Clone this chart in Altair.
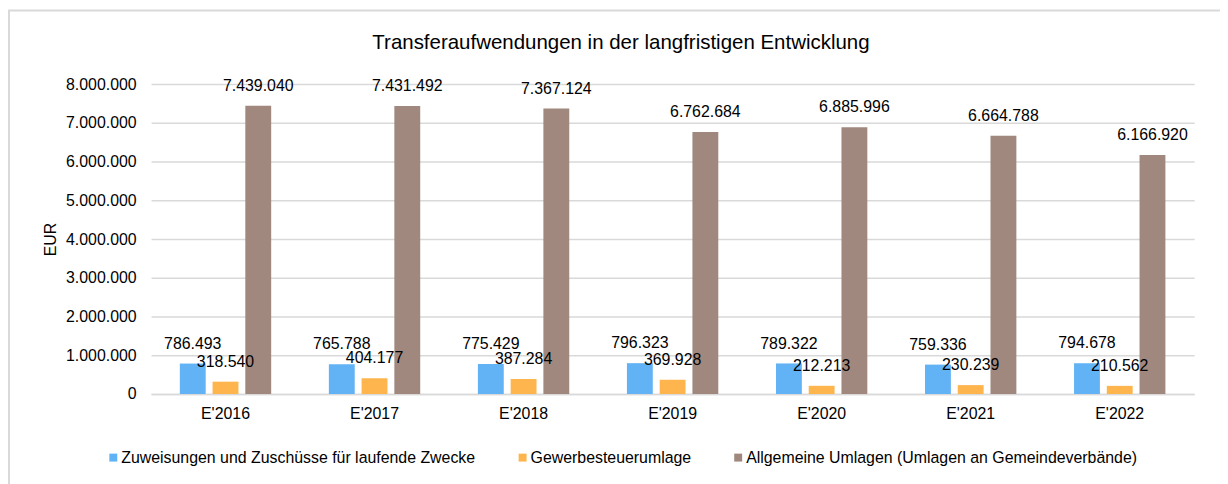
import altair as alt
import pandas as pd

years = ["E'2016", "E'2017", "E'2018", "E'2019", "E'2020", "E'2021", "E'2022"]
series_names = [
    "Zuweisungen und Zuschüsse für laufende Zwecke",
    "Gewerbesteuerumlage",
    "Allgemeine Umlagen (Umlagen an Gemeindeverbände)",
]
zuweisungen = [786493, 765788, 775429, 796323, 789322, 759336, 794678]
gewerbesteuer = [318540, 404177, 387284, 369928, 212213, 230239, 210562]
umlagen = [7439040, 7431492, 7367124, 6762684, 6885996, 6664788, 6166920]
colors = ["#62B3F5", "#FFB54D", "#A0887E"]
y_ticks = [0, 1000000, 2000000, 3000000, 4000000, 5000000, 6000000, 7000000, 8000000]

rows = []
for name, vals in zip(series_names, [zuweisungen, gewerbesteuer, umlagen]):
    for yr, v in zip(years, vals):
        rows.append({"Jahr": yr, "Serie": name, "Wert": v,
                     "Label": f"{v:,}".replace(",", ".")})
df = pd.DataFrame(rows)

FONT = "Liberation Sans"

x_enc = alt.X("Jahr:N", sort=years,
              scale=alt.Scale(paddingInner=0.387, paddingOuter=0.193),
              axis=alt.Axis(title=None, labelAngle=0, ticks=False, domain=True,
                            domainColor="#D9D9D9", domainWidth=1.5,
                            labelFontSize=16, labelFont=FONT, labelColor="#000000",
                            labelPadding=12))
xo_enc = alt.XOffset("Serie:N", sort=series_names,
                     scale=alt.Scale(paddingInner=0.21, paddingOuter=0))
y_enc = alt.Y("Wert:Q",
              scale=alt.Scale(domain=[0, 8000000], nice=False),
              axis=alt.Axis(title="EUR", values=y_ticks, ticks=False, domain=False,
                            labelOverlap=False,
                            labelExpr="replace(format(datum.value, ','), /,/g, '.')",
                            labelFontSize=16, labelFont=FONT, labelColor="#000000",
                            labelPadding=15, titleFontSize=16, titleFont=FONT,
                            titleFontWeight="normal", titleColor="#000000",
                            titlePadding=7, gridColor="#D9D9D9", gridWidth=1.5))
color_enc = alt.Color("Serie:N", sort=series_names,
                      scale=alt.Scale(domain=series_names, range=colors),
                      legend=alt.Legend(title=None, orient="none", direction="horizontal",
                                        columns=3, columnPadding=39, legendX=-46,
                                        legendY=368, symbolType="square", symbolSize=64,
                                        symbolStrokeWidth=0, labelOffset=0, padding=0,
                                        labelFontSize=16, labelFont=FONT,
                                        labelColor="#000000", labelLimit=0))

bars = alt.Chart(df).mark_bar().encode(x=x_enc, xOffset=xo_enc, y=y_enc, color=color_enc)
labels = alt.Chart(df).mark_text(fontSize=16, font=FONT, color="#000000",
                                 baseline="middle", dy=-20).encode(
    x=x_enc, xOffset=xo_enc, y=y_enc, text="Label:N")

border = alt.Chart(pd.DataFrame({"a": [0]})).mark_rect(
    filled=False, stroke="#D9D9D9", strokeWidth=2, clip=False).encode(
    x=alt.value(-143), x2=alt.value(1200), y=alt.value(-74), y2=alt.value(500))

chart = alt.layer(border, bars, labels).properties(
    width=1050, height=312,
    padding={"left": 144, "top": 75, "right": 26, "bottom": 89},
    autosize=alt.AutoSizeParams(type="none"),
    title=alt.TitleParams("Transferaufwendungen in der langfristigen Entwicklung",
                          anchor="middle", frame="group", dx=-52, offset=-44,
                          fontSize=20.6, font=FONT, fontWeight="normal", color="#000000"),
).configure_view(strokeWidth=0)

chart.save("out.html", embed_options={"renderer": "svg", "actions": False})
